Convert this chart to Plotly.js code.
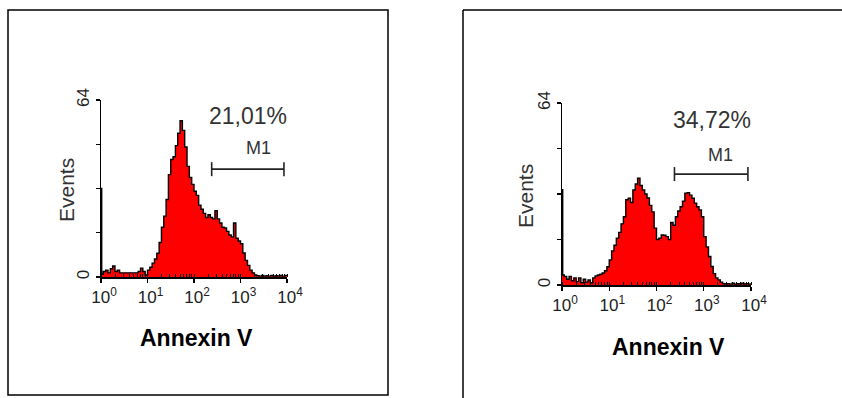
<!DOCTYPE html>
<html>
<head>
<meta charset="utf-8">
<script src="https://cdn.plot.ly/plotly-3.0.1.min.js"></script>
<style>html,body{margin:0;padding:0;background:#fff;}#chart{width:842px;height:398px;}</style>
</head>
<body>
<div id="chart"></div>
<script>
// Channel positions (decades of fluorescence, 10^e)
const exponents = [0, 0.015, 0.05, 0.10, 0.15, 0.20, 0.25, 0.30, 0.35, 0.40, 0.45, 0.50, 0.55, 0.60, 0.65, 0.70, 0.75, 0.80, 0.85, 0.90, 0.95,
  1.00, 1.05, 1.10, 1.15, 1.20, 1.25, 1.30, 1.35, 1.40, 1.45, 1.50, 1.55, 1.60, 1.65, 1.70, 1.75, 1.80, 1.85, 1.90, 1.95,
  2.00, 2.05, 2.10, 2.15, 2.20, 2.25, 2.30, 2.35, 2.40, 2.45, 2.50, 2.55, 2.60, 2.65, 2.70, 2.75, 2.80, 2.85, 2.90, 2.95,
  3.00, 3.05, 3.10, 3.15, 3.20, 3.25, 3.30, 3.35, 3.40, 3.45, 3.50, 3.55, 3.60, 3.65, 3.70, 3.75, 3.80, 3.85, 3.90, 3.95, 4.00];

// Events per channel, left histogram (21,01%)
const countsLeft = [32, 1, 2, 2.5, 1.5, 3, 4, 2, 2.5, 1.5, 1.5, 1.5, 1.5, 1.5, 1.5, 1.5, 1.5, 2, 3.2, 2, 0.7,
  2.5, 3.5, 5, 6.5, 8.6, 12.5, 18, 22, 28, 37, 42.5, 43.5, 47.5, 52, 56.5, 53, 47, 40, 36, 33.5,
  31, 29.5, 26, 24.5, 23, 21.5, 22.5, 21.5, 21, 24, 21, 19.5, 18, 17.7, 16.5, 15.2, 14.5, 19.5, 14, 13,
  12, 8.7, 6, 4.2, 2.5, 1.5, 0.7, 0.5, 0.3, 0.6, 0.3, 0.5, 0.3, 0.6, 0.3, 0.5, 0.4, 0.6, 0.3, 0.6, 0.6];

// Events per channel, right histogram (34,72%)
const countsRight = [33.5, 3.5, 3, 2, 3, 1.5, 2.5, 1.2, 2.5, 0.8, 2, 1, 1.8, 0.8, 2.5, 3.2, 3.5, 3.8, 4.2, 5, 6.4,
  8.8, 12, 14, 16.5, 18.5, 21.5, 24, 30, 30.5, 29, 33.4, 35.5, 37.6, 35, 33.4, 32, 30.6, 28, 25.7, 20,
  16, 16.5, 17.6, 17.5, 17, 16, 22, 21, 24, 26, 27.5, 29.5, 32.3, 32.5, 31.6, 30.5, 28.8, 27.5, 26.4, 24,
  17, 13.4, 10, 6.5, 4, 2.5, 1.8, 1, 0.5, 0.3, 0.5, 0.3, 0.6, 0.3, 0.5, 0.3, 0.6, 0.4, 0.5, 0.3, 0.6];

// M1 marker gate (fluorescence range) and its height in events
const gateM1 = [240, 8600];
const gateLevel = [39, 39];
const percentLabels = ['21,01%', '34,72%'];
const gateName = 'M1';

// Axis ticks and titles
const xTickVals = [1, 10, 100, 1000, 10000];
const xTickText = ['10<sup>0</sup>', '10<sup>1</sup>', '10<sup>2</sup>', '10<sup>3</sup>', '10<sup>4</sup>'];
const yTickVals = [0, 16, 32, 48, 64];
const yTickText = ['0', '', '', '', '64'];
const xTitle = 'Annexin V';
const yTitle = 'Events';

const xValues = exponents.map(e => Math.pow(10, e));
const W = 842, H = 398;
const px = v => v / W;
const py = v => 1 - v / H;

function hist(y, xa, ya) {
  return {x: xValues, y: y, xaxis: xa, yaxis: ya, type: 'scatter', mode: 'lines',
    line: {shape: 'hv', color: '#000', width: 1.4}, fill: 'tozeroy', fillcolor: '#ff0000',
    hoverinfo: 'skip', showlegend: false};
}
function gate(xa, ya) {
  return {x: gateM1, y: gateLevel, xaxis: xa, yaxis: ya, type: 'scatter', mode: 'lines+markers',
    line: {color: '#222', width: 1.6}, marker: {symbol: 'line-ns-open', size: 10, color: '#222', line: {width: 1.6, color: '#222'}},
    hoverinfo: 'skip', showlegend: false};
}

const fontFam = 'Liberation Sans, Arial, sans-serif';
function xAxis(domain, anchor) {
  return {domain: domain, anchor: anchor, type: 'log', range: [0, 4], tickvals: xTickVals, ticktext: xTickText,
    ticks: 'outside', ticklen: 4, tickwidth: 1.2, tickcolor: '#000', showline: true, linecolor: '#000', linewidth: 1.5,
    showgrid: false, zeroline: false, tickfont: {family: fontFam, size: 17, color: '#222'}, ticklabelshift: 3,
    minor: {dtick: 'D1', ticks: 'inside', ticklen: 3, tickcolor: '#000', tickwidth: 1, showgrid: false},
    fixedrange: true};
}
function yAxis(domain, anchor) {
  return {domain: domain, anchor: anchor, range: [0, 64], tickvals: yTickVals, ticktext: yTickText, tickangle: -90,
    ticks: 'outside', ticklen: 4, tickwidth: 1.2, tickcolor: '#000', showline: true, linecolor: '#000', linewidth: 1.5,
    showgrid: false, zeroline: false, tickfont: {family: fontFam, size: 17, color: '#222'}, ticklabelstandoff: 0,
    fixedrange: true};
}

const data = [
  hist(countsLeft, 'x', 'y'), gate('x', 'y'),
  hist(countsRight, 'x2', 'y2'), gate('x2', 'y2')
];

function note(x, y, text, size, extra) {
  return Object.assign({xref: 'paper', yref: 'paper', x: px(x), y: py(y), text: text, showarrow: false,
    xanchor: 'center', yanchor: 'middle', font: {family: fontFam, size: size, color: '#333'}}, extra || {});
}

const layout = {
  width: W, height: H, autosize: false,
  margin: {l: 0, r: 0, t: 0, b: 0},
  paper_bgcolor: '#fff', plot_bgcolor: 'rgba(0,0,0,0)',
  xaxis: xAxis([px(101), px(287)], 'y'),
  yaxis: yAxis([py(277), py(100)], 'x'),
  xaxis2: xAxis([px(562), px(751)], 'y2'),
  yaxis2: yAxis([py(285), py(103)], 'x2'),
  shapes: [
    {type: 'rect', xref: 'paper', yref: 'paper', x0: px(8), x1: px(388), y0: py(395), y1: py(10), line: {color: '#000', width: 1.5}},
    {type: 'line', xref: 'paper', yref: 'paper', x0: px(463), x1: px(463), y0: py(10), y1: py(400), line: {color: '#000', width: 1.5}},
    {type: 'line', xref: 'paper', yref: 'paper', x0: px(463), x1: px(845), y0: py(10), y1: py(10), line: {color: '#000', width: 1.5}}
  ],
  annotations: [
    note(248, 116, percentLabels[0], 23),
    note(258, 148, gateName, 18),
    note(712, 120, percentLabels[1], 23),
    note(720, 155, gateName, 18),
    note(67, 190, yTitle, 21, {textangle: -90}),
    note(525, 196, yTitle, 21, {textangle: -90}),
    note(196, 338, '<b>' + xTitle + '</b>', 23, {font: {family: fontFam, size: 23, color: '#000'}}),
    note(668, 347, '<b>' + xTitle + '</b>', 23, {font: {family: fontFam, size: 23, color: '#000'}})
  ]
};

Plotly.newPlot('chart', data, layout, {displayModeBar: false, staticPlot: true});
</script>
</body>
</html>
